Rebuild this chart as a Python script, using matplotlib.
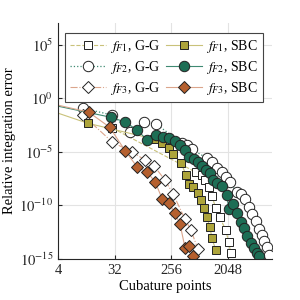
import numpy as np
import matplotlib
matplotlib.use('Agg')
import matplotlib.pyplot as plt

plt.rcParams['font.family'] = 'Liberation Serif'
plt.rcParams['mathtext.fontset'] = 'stix'
plt.rcParams['font.size'] = 10

# values, y given as log10(error)
# G-G rules (open markers)
x_f1_gg = [29.6, 638, 792, 885, 1024, 1142, 1323, 1530, 1900, 2120, 2290]
e_f1_gg = [-2.80, -6.92, -7.20, -7.66, -8.32, -9.16, -10.28, -11.12, -12.34, -13.46, -14.49]

x_f2_gg = [10.0, 29.6, 57.3, 95.5, 148, 383, 459, 551, 950, 1142, 1370, 1643, 1900, 2210,
           2840, 3280, 3790, 4410, 4910, 5680, 6340, 7080, 7600, 8490, 9140]
e_f2_gg = [-0.93, -1.59, -3.18, -2.24, -2.43, -4.21, -4.39, -4.77, -5.61, -5.98, -6.54, -6.92,
           -7.38, -7.85, -8.79, -8.97, -9.44, -10.19, -10.84, -11.50, -12.24, -12.80, -13.36,
           -13.93, -14.67]

x_f3_gg = [10.0, 29.6, 61.7, 99, 138, 205, 276, 427, 531, 684]
e_f3_gg = [-1.59, -4.11, -5.05, -5.79, -6.36, -7.66, -8.97, -11.31, -12.34, -14.11]

# SBC rules (filled markers)
x_f1_sbc = [2, 11.9, 138, 185, 237, 276, 370, 443, 494, 571, 684, 764, 855, 950, 1062, 1142, 1323]
e_f1_sbc = [-0.80, -2.34, -3.83, -4.21, -4.67, -5.23, -6.07, -7.20, -8.04, -8.32, -8.88, -9.53,
            -10.28, -11.12, -12.06, -13.08, -14.21]

x_f2_sbc = [2, 27.7, 47.8, 74, 107, 148, 191, 237, 296, 355, 427, 494, 592, 684, 792, 916,
            1062, 1185, 1370, 1643, 1974, 2120, 2452, 2840, 3280, 3660, 4096, 4740, 5290,
            5910, 6340]
e_f2_sbc = [-0.38, -1.78, -2.24, -2.99, -3.93, -3.46, -3.64, -3.74, -4.02, -4.39, -4.86, -5.51,
            -5.70, -5.98, -6.36, -6.73, -7.01, -7.66, -7.94, -8.22, -9.07, -10.37, -9.91,
            -10.75, -11.59, -12.15, -12.90, -13.55, -14.02, -14.49, -14.77]

x_f3_sbc = [2, 12.4, 26.7, 47.8, 74, 107, 143, 185, 237, 296, 355, 427, 494, 571]
e_f3_sbc = [-0.25, -1.31, -2.71, -4.95, -6.45, -6.92, -7.85, -9.44, -9.81, -10.75, -11.78,
            -14.0, -13.8, -14.77]

xticks = [4, 32, 256, 2048]
yticks = [-15, -10, -5, 0, 5]

olive = '#ada43a'
green = '#1d6e55'
brown = '#b5602f'
olive_ln = '#c9c27a'
green_ln = '#3f8a72'
brown_ln = '#dba58c'
edge = '#222222'

fig = plt.figure(figsize=(3, 3), dpi=100)
ax = fig.add_axes([0.193, 0.137, 0.714, 0.786])

ax.plot(x_f1_gg, 10.0**np.array(e_f1_gg), ls='--', lw=0.8, color=olive_ln, marker='s', ms=6.3,
        mfc='white', mec=edge, mew=0.7, label='$f_{F1}$, G-G')
ax.plot(x_f2_gg, 10.0**np.array(e_f2_gg), ls=':', lw=0.9, color=green_ln, marker='o', ms=7.5,
        mfc='white', mec=edge, mew=0.7, label='$f_{F2}$, G-G')
ax.plot(x_f3_gg, 10.0**np.array(e_f3_gg), ls='-.', lw=0.8, color=brown_ln, marker='D', ms=6.3,
        mfc='white', mec=edge, mew=0.7, label='$f_{F3}$, G-G')
ax.plot(x_f1_sbc, 10.0**np.array(e_f1_sbc), ls='-', lw=0.8, color=olive_ln, marker='s', ms=6.3,
        mfc=olive, mec=edge, mew=0.7, label='$f_{F1}$, SBC')
ax.plot(x_f2_sbc, 10.0**np.array(e_f2_sbc), ls='-', lw=0.8, color=green_ln, marker='o', ms=7.5,
        mfc=green, mec=edge, mew=0.7, label='$f_{F2}$, SBC')
ax.plot(x_f3_sbc, 10.0**np.array(e_f3_sbc), ls='-', lw=0.8, color=brown_ln, marker='D', ms=6.3,
        mfc=brown, mec=edge, mew=0.7, label='$f_{F3}$, SBC')

ax.set_xscale('log', base=2)
ax.set_yscale('log')
ax.set_xlim(4, 10400)
ax.set_ylim(1e-15, 1e7)
ax.set_xticks(xticks)
ax.set_xticklabels([str(t) for t in xticks])
ax.set_yticks([10.0**t for t in yticks])
ax.set_yticklabels(['$10^{%d}$' % t for t in yticks])
ax.minorticks_off()
ax.tick_params(direction='in', length=3, width=0.8, colors='#262626', labelsize=10.5)
ax.grid(True, color='#e3e3e3', lw=0.8)
ax.set_axisbelow(True)
for s in ['top', 'right']:
    ax.spines[s].set_visible(False)
for s in ['left', 'bottom']:
    ax.spines[s].set_color('#262626')
    ax.spines[s].set_linewidth(0.8)

ax.set_xlabel('Cubature points', fontsize=10.5, labelpad=2)
ax.set_ylabel('Relative integration error', fontsize=10.5, labelpad=2)

leg = ax.legend(ncol=2, loc='upper left', bbox_to_anchor=(0.033, 0.958), borderaxespad=0,
                handlelength=2.6, handletextpad=0.3, columnspacing=0.4, labelspacing=0.3,
                borderpad=0.35, fancybox=False, framealpha=1, edgecolor='#444444',
                fontsize=10)
leg.get_frame().set_linewidth(0.8)

fig.savefig('out.png', dpi=100)
